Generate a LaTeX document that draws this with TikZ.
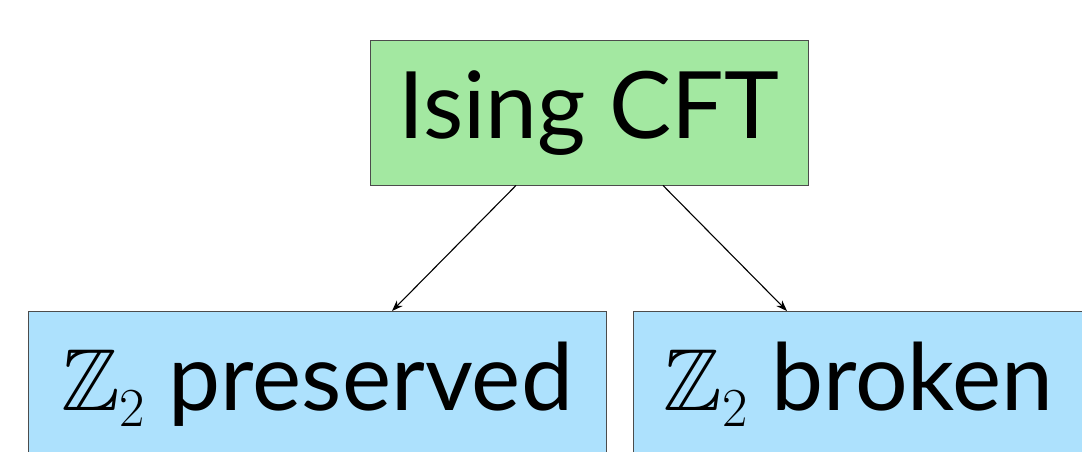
\documentclass[tikz,border=0pt]{standalone}
\usepackage{amssymb}
\usepackage{fontspec}
\setmainfont{Lato}
\newfontfamily\lmfont{Latin Modern Roman}
\usetikzlibrary{arrows.meta}
\definecolor{boxgreen}{RGB}{163,232,161}
\definecolor{boxblue}{RGB}{173,225,253}
\tikzset{
  boxnode/.style={draw=black!70, line width=0.9pt, inner sep=0pt, minimum height=145pt,
    text height=70pt, text depth=17pt, font=\fontsize{93}{100}\selectfont},
  conn/.style={-{Stealth[length=11pt,width=8pt]}, line width=1.1pt}
}
\newcommand{\ztwo}{{\fontsize{88}{100}\selectfont$\mathbb{Z}$}\raisebox{-16pt}{\lmfont\fontsize{55}{60}\selectfont 2}}
\begin{document}
\begin{tikzpicture}[x=1pt,y=1pt]
\useasboundingbox (0,0) rectangle (1082,452);
\clip (0,0) rectangle (1082,452);
\fill[white] (0,0) rectangle (1082,452);
\node[boxnode, fill=boxgreen, minimum width=438pt] (top) at (589,339.5) {Ising CFT};
\node[boxnode, fill=boxblue, minimum width=578pt] (pres) at (317,68) {\ztwo\ preserved};
\node[boxnode, fill=boxblue, minimum width=451pt] (brok) at (858.5,68) {\ztwo\ broken};
\draw[conn] ([xshift=-73pt]top.south) -- ([xshift=75pt]pres.north);
\draw[conn] ([xshift=74pt]top.south) -- ([xshift=-71.5pt]brok.north);
\end{tikzpicture}
\end{document}
